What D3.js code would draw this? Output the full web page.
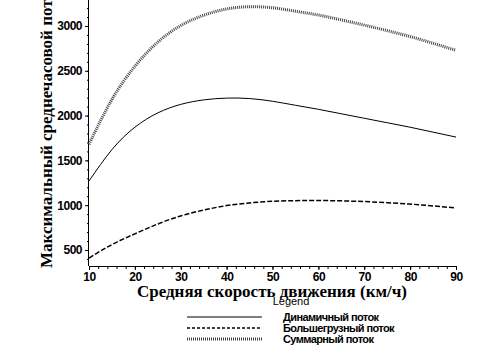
<!DOCTYPE html>
<html>
<head>
<meta charset="utf-8">
<script src="https://cdn.jsdelivr.net/npm/d3@7"></script>
<style>
  body { margin: 0; background: #fff; }
  svg { display: block; }
</style>
</head>
<body>
<div id="chart"></div>
<script>
// speeds, km/h
var speeds = [10, 15, 20, 25, 30, 35, 40, 45, 50, 55, 60, 65, 70, 75, 80, 85, 90];
// Динамичный поток
var dynFlow = [1270, 1620, 1870, 2030, 2125, 2175, 2195, 2190, 2160, 2115, 2070, 2020, 1970, 1920, 1870, 1815, 1760];
// Большегрузный поток
var heavyFlow = [410, 560, 680, 790, 880, 945, 995, 1025, 1043, 1050, 1052, 1048, 1040, 1028, 1012, 992, 968];
// Суммарный поток
var sumFlow = [1680, 2180, 2550, 2820, 3005, 3120, 3190, 3215, 3203, 3165, 3122, 3068, 3010, 2948, 2882, 2807, 2728];

var xTicks = [10, 20, 30, 40, 50, 60, 70, 80, 90];
var yTicks = [500, 1000, 1500, 2000, 2500, 3000];
var legendLabels = ["Динамичный поток", "Большегрузный поток", "Суммарный поток"];

var width = 504, height = 361;

var svg = d3.select("#chart")
  .append("svg")
    .attr("width", width)
    .attr("height", height);

var x = d3.scaleLinear()
  .domain([10, 90])
  .range([89, 456]);

var y = d3.scaleLinear()
  .domain([321, 3290])
  .range([266, 0]);

var tickFont = function(g) {
  g.selectAll("text")
    .style("font-family", "Liberation Sans, Arial, sans-serif")
    .style("font-weight", "bold")
    .style("font-size", "12px")
    .style("letter-spacing", "-0.5px")
    .attr("fill", "#000");
};

// x axis
svg.append("g")
  .attr("transform", "translate(0,266)")
  .call(d3.axisBottom(x).tickValues(d3.range(10, 91, 2)).tickSize(3).tickFormat(""))
  .call(function(g) { g.select(".domain").remove(); });
svg.append("g")
  .attr("transform", "translate(0,266)")
  .call(d3.axisBottom(x).tickValues(xTicks).tickSize(4).tickPadding(2).tickFormat(d3.format("d")))
  .call(function(g) {
    g.select(".domain").attr("d", "M89,0.5H456");
  })
  .call(tickFont);

// y axis
svg.append("g")
  .attr("transform", "translate(89,0)")
  .call(d3.axisLeft(y).tickValues(d3.range(400, 3290, 100)).tickSize(2).tickFormat(""))
  .call(function(g) { g.select(".domain").remove(); });
svg.append("g")
  .attr("transform", "translate(89,0)")
  .call(d3.axisLeft(y).tickValues(yTicks).tickSize(4).tickPadding(3).tickFormat(d3.format("d")))
  .call(function(g) {
    g.select(".domain").attr("d", "M-0.5,0V266");
  })
  .call(tickFont);

var line = function(vals) {
  return d3.line()
    .x(function(d, i) { return x(speeds[i]); })
    .y(function(d) { return y(d); })
    .curve(d3.curveNatural)(vals);
};

svg.append("path")
  .attr("d", line(dynFlow))
  .attr("fill", "none")
  .attr("stroke", "#000")
  .attr("stroke-width", 1);

svg.append("path")
  .attr("d", line(heavyFlow))
  .attr("fill", "none")
  .attr("stroke", "#000")
  .attr("stroke-width", 1.5)
  .attr("stroke-dasharray", "5,2");

svg.append("path")
  .attr("d", line(sumFlow))
  .attr("fill", "none")
  .attr("stroke", "#444")
  .attr("stroke-width", 3)
  .attr("stroke-dasharray", "1,1");

// axis titles
svg.append("text")
  .attr("transform", "translate(52,268)rotate(-90)")
  .style("font-family", "Liberation Serif, Times New Roman, serif")
  .style("font-weight", "bold")
  .style("font-size", "17px")
  .text("Максимальный среднечасовой поток");

svg.append("text")
  .attr("x", 272)
  .attr("y", 297)
  .attr("text-anchor", "middle")
  .style("font-family", "Liberation Serif, Times New Roman, serif")
  .style("font-weight", "bold")
  .style("font-size", "17px")
  .text("Средняя скорость движения (км/ч)");

// legend
svg.append("text")
  .attr("x", 291)
  .attr("y", 305)
  .attr("text-anchor", "middle")
  .style("font-family", "Liberation Sans Narrow, Liberation Sans, Arial, sans-serif")
  .style("font-size", "11px")
  .text("Legend");

var legendStyles = [
  {w: 1, dash: null, c: "#000"},
  {w: 1.5, dash: "3,2", c: "#000"},
  {w: 3, dash: "1,1", c: "#444"}
];
var rowY = [317, 328, 339];

legendLabels.forEach(function(lab, i) {
  svg.append("line")
    .attr("x1", 187).attr("x2", 262)
    .attr("y1", rowY[i]).attr("y2", rowY[i])
    .attr("stroke", legendStyles[i].c)
    .attr("stroke-width", legendStyles[i].w)
    .attr("stroke-dasharray", legendStyles[i].dash);
  svg.append("text")
    .attr("x", 283)
    .attr("y", rowY[i] + 4)
    .style("font-family", "Liberation Sans, Arial, sans-serif")
    .style("font-weight", "bold")
    .style("font-size", "11px")
    .style("letter-spacing", "-0.6px")
    .text(lab);
});
</script>
</body>
</html>
